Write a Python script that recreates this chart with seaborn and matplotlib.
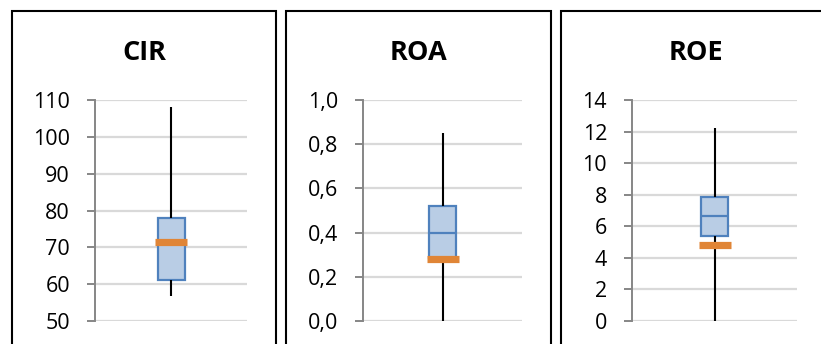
import matplotlib
matplotlib.use("Agg")
import matplotlib.pyplot as plt
from matplotlib.patches import Rectangle
import seaborn as sns

# five-number summaries: min, q1, median, q3, max
cir_stats = [56.8, 61.1, 71.3, 77.9, 108.1]
roa_stats = [0.0, 0.285, 0.397, 0.520, 0.852]
roe_stats = [0.0, 5.38, 6.67, 7.88, 12.2]

# orange marker value in each panel
cir_mark = 71.4
roa_mark = 0.279
roe_mark = 4.81

titles = ["CIR", "ROA", "ROE"]
cir_ticks = [50, 60, 70, 80, 90, 100, 110]
cir_labels = ["50", "60", "70", "80", "90", "100", "110"]
roa_ticks = [0.0, 0.2, 0.4, 0.6, 0.8, 1.0]
roa_labels = ["0,0", "0,2", "0,4", "0,6", "0,8", "1,0"]
roe_ticks = [0, 2, 4, 6, 8, 10, 12, 14]
roe_labels = ["0", "2", "4", "6", "8", "10", "12", "14"]

sns.set_style("white")
plt.rcParams["font.family"] = ["Open Sans", "DejaVu Sans"]

W, H = 821, 344
fig = plt.figure(figsize=(W / 100, H / 100), dpi=100)

# panel frames (left, right) in pixels, axes (left, right) in pixels
frames = [(12, 276), (286, 551), (561, 830)]
axes_px = [(95, 247), (363, 522), (632, 797)]
ax_top, ax_bot = 100, 321

panels = [
    (cir_stats, cir_mark, cir_ticks, cir_labels),
    (roa_stats, roa_mark, roa_ticks, roa_labels),
    (roe_stats, roe_mark, roe_ticks, roe_labels),
]

for i, (stats, mark, ticks, labels) in enumerate(panels):
    fl, fr = frames[i]
    fig.add_artist(Rectangle((fl / W, -0.1), (fr - fl) / W, (H - 11) / H + 0.1,
                             transform=fig.transFigure, fill=False,
                             edgecolor="black", linewidth=1.5))
    fig.text((fl + fr) / 2 / W, 1 - 53 / H, titles[i], ha="center", va="center",
             fontsize=19.5, fontweight="bold", color="black")

    al, ar = axes_px[i]
    ax = fig.add_axes([al / W, (H - ax_bot) / H, (ar - al) / W, (ax_bot - ax_top) / H])
    bw = 27 / (ar - al)
    sns.boxplot(y=stats, whis=(0, 100), width=bw, ax=ax,
                showcaps=False, fliersize=0,
                boxprops=dict(facecolor="#B9CDE5", edgecolor="#4F81BD", linewidth=1.6),
                medianprops=dict(color="#4F81BD", linewidth=1.6),
                whiskerprops=dict(color="black", linewidth=1.5))
    ax.plot([0], [mark], marker="_", markersize=22.5, markeredgewidth=5.2,
            color="#E08536", zorder=5)

    ax.set_xlim(-0.5, 0.5)
    ax.set_ylim(ticks[0], ticks[-1])
    ax.set_yticks(ticks)
    ax.set_yticklabels(labels)
    ax.set_xticks([])
    ax.set_ylabel("")
    ax.grid(axis="y", color="#D9D9D9", linewidth=1.6)
    ax.set_axisbelow(True)
    for s in ["top", "right", "bottom"]:
        ax.spines[s].set_visible(False)
    ax.spines["left"].set_color("#868686")
    ax.spines["left"].set_linewidth(1.4)
    ax.tick_params(axis="y", length=6, width=1.4, color="#868686", pad=12,
                   labelsize=15.5, labelcolor="black", left=True)

fig.savefig("out.png", dpi=100)
